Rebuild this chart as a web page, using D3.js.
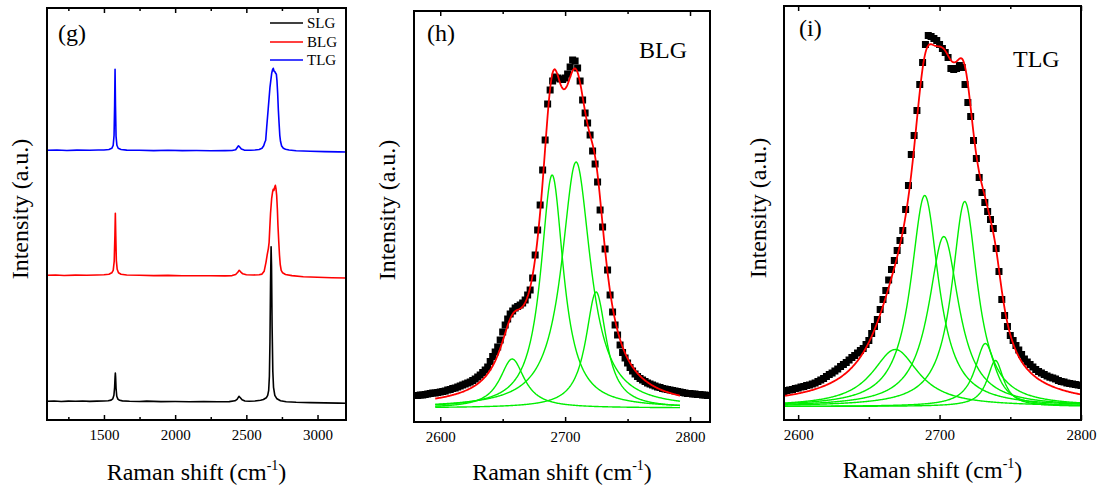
<!DOCTYPE html>
<html>
<head>
<meta charset="utf-8">
<script src="https://cdn.jsdelivr.net/npm/d3@7"></script>
<style>
body { margin: 0; background: #fff; }
svg text { font-family: "Liberation Serif", "Times New Roman", serif; fill: #000; }
</style>
</head>
<body>
<svg id="chart" width="1106" height="490"></svg>
<script>
// ---- data ----
const seriesNames = ["SLG", "BLG", "TLG"];
const stackOffset = [0, 126, 251];

// panel (g): [Raman shift, intensity] pairs
const slgSpectrum = [[1100,0],[1150,0.3],[1200,-0.2],[1250,0.2],[1300,0],[1350,0.3],[1400,-0.1],[1450,0.2],[1500,0.3],
  [1530,0.6],[1550,1.2],[1562,2.5],[1570,6],[1575,14],[1578,24],[1580,28.3],[1582,24],[1585,13],[1590,5],[1598,2.2],
  [1610,1],[1630,0.4],[1680,0],[1750,-0.2],[1800,0.2],[1900,-0.3],[2000,-0.2],[2100,-0.4],[2200,-0.3],[2300,-0.5],
  [2380,-0.3],[2420,0.5],[2435,2],[2448,5],[2458,3.5],[2470,1.5],[2490,0.3],[2520,0],[2560,0.3],[2600,1],[2620,1.8],
  [2640,3.5],[2650,6],[2657,11],[2662,25],[2666,60],[2670,118],[2674,154.6],[2677,135],[2681,75],[2686,30],[2691,14],
  [2700,6],[2715,2.5],[2740,0.5],[2780,-0.5],[2850,-1],[2950,-1.3],[3050,-1.6],[3150,-1.8],[3200,-2]];
const blgSpectrum = [[1100,0],[1160,0.3],[1220,-0.2],[1300,0.2],[1380,0],[1450,0.3],[1500,0.5],[1535,1],[1555,2.5],
  [1565,5],[1572,14],[1577,40],[1580,62],[1583,40],[1587,15],[1593,6],[1602,2.5],[1620,1],[1660,0.3],[1750,0],
  [1850,-0.3],[1950,-0.1],[2050,-0.4],[2150,-0.5],[2250,-0.4],[2350,-0.6],[2400,-0.3],[2425,0.8],[2440,3],[2450,5],
  [2460,3.5],[2475,1.5],[2500,0.5],[2550,0.3],[2590,0.6],[2610,1.2],[2625,4],[2638,13],[2647,21],[2655,27],[2660,33],
  [2665,48],[2670,62],[2678,77],[2684,83],[2689,86],[2694,85],[2699,88],[2704,90],[2708,87],[2713,80],[2718,66],
  [2722,50],[2728,33],[2733,20],[2738,11],[2745,5],[2755,2.5],[2775,0.8],[2820,-0.3],[2900,-1.5],[3000,-2],
  [3100,-2.4],[3200,-2.7]];
const tlgSpectrum = [[1100,0],[1170,0.3],[1240,-0.2],[1310,0.2],[1400,0],[1460,0.3],[1500,0.3],[1535,0.8],[1555,2],
  [1565,5],[1571,15],[1575,45],[1578,81],[1581,45],[1585,14],[1591,5],[1600,2],[1620,0.8],[1660,0.2],[1750,0],
  [1850,-0.3],[1950,0],[2050,-0.3],[2150,-0.2],[2250,-0.4],[2350,-0.3],[2400,-0.2],[2425,0.5],[2435,2.5],[2445,4.5],
  [2455,3],[2465,1.2],[2485,0.2],[2530,0],[2560,0.3],[2590,0.8],[2610,2],[2622,4.5],[2630,8],[2636,10],[2643,23],
  [2654,42],[2666,63],[2678,77],[2685,81],[2689,82],[2695,79],[2701,78.5],[2706,77],[2711,76],[2715,70],[2720,57],
  [2725,40],[2730,27],[2735,15],[2740,9],[2748,4.3],[2760,2],[2775,1],[2800,0.3],[2850,-0.5],[2950,-1],
  [3050,-1.3],[3150,-1.6],[3200,-1.7]];

// panel (h): BLG 2D band, measured points every 2 cm-1 from 2580
const blgShiftStart = 2580, blgShiftStep = 2;
const blgMeasured = [12.5,12.5,13,13,13.5,14,14.5,15,15,15.5,16,16.5,17,18,18.5,19.5,20,21,22,23,
  24,25,26,27.5,29,31,33,35.5,38,41,46.5,51.5,56,61,68,76,83,89,94,97,
  100,101.5,103,105,108,113,118,130,153,178,203,238,268,304,318,327,331,330,329,328.5,
  330,334,341,348,347,340,327,308,295,285,273,257,244,226,198,181,159,138,113,96,
  83,73,63,55.5,50,45,40.5,37,34,31.5,29.5,28,26.5,25,24,23,22,21,20.5,19.5,
  19,18.5,18,17.5,17,16.5,16,15.5,15,14.5,14.5,14,14,13.5,13.5,13,13,12.5,12.5];
const blgFitRange = [2596, 2792];
const blgPeakCenter = [2657.6, 2689.6, 2708.8, 2724.8];
const blgPeakHeight = [49, 233, 246, 116];
const blgPeakHalfWidth = [12, 11, 14, 10];

// panel (i): TLG 2D band, measured points every 2 cm-1 from 2590
const tlgShiftStart = 2590, tlgShiftStep = 2;
const tlgMeasured = [15,16,16.5,17,18,18.5,19.5,20,21,21.5,22.5,23.5,25,26.5,28,30,32,33.5,35.5,37.5,
  40,42,44,46.5,49,51,53.5,56,58,62,66,73,80,87,97,107,116,126.5,137,146,
  156,166,176,197,221,252,271,296,322,344,362,371,370,368,366,362,358,354,349,338,
  337,338,341,339,322,304,290,266,248,229,214,204,195,187,178,158,135,107,91,80,
  71,66,61,56.5,52,47.5,44.5,42,39.5,37,35,33.5,32,30.5,29.3,28.5,27.5,26,25,24.5,
  23.5,23,22.5,22,21.5,21];
const tlgFitRange = [2590, 2800];
const tlgPeakCenter = [2668.7, 2689.5, 2703, 2717.8, 2732.4, 2739.5];
const tlgPeakHeight = [57, 211, 170, 205, 63, 46];
const tlgPeakHalfWidth = [20, 12, 13, 11, 9, 7];

const gTickMajor = [1500, 2000, 2500, 3000];
const gTickMinor = [1250, 1750, 2250, 2750];
const zoomTickMajor = [2600, 2700, 2800];
const zoomTickMinor = [2650, 2750];

// ---- layout ----
const lineColors = ["#000000", "#ff0000", "#0000ff"];
const fitGreen = "#00ee00";
const panels = [
  {name: "g", left: 47, right: 346, top: 8, bottom: 420, xDomain: [1100, 3200], yDomain: [-18.7, 393.3],
   major: gTickMajor, minor: gTickMinor, tag: "(g)", tagX: 58, tagY: 41, ylabX: 28, ylabY: 209, titleY: 480},
  {name: "h", left: 414, right: 710, top: 11, bottom: 422, xDomain: [2579, 2816], yDomain: [-14, 397],
   major: zoomTickMajor, minor: zoomTickMinor, tag: "(h)", tagX: 427, tagY: 41, ylabX: 395, ylabY: 210, titleY: 480,
   label: "BLG", labelX: 639, labelY: 58},
  {name: "i", left: 784, right: 1081, top: 6, bottom: 420, xDomain: [2590, 2800], yDomain: [-13.5, 400.5],
   major: zoomTickMajor, minor: zoomTickMinor, tag: "(i)", tagX: 799, tagY: 36, ylabX: 766, ylabY: 208, titleY: 478,
   label: "TLG", labelX: 1013, labelY: 67}
];

const svg = d3.select("#chart");
const defs = svg.append("defs");

function lorentz(xv, c, h, w) { return h / (1 + ((xv - c) / w) * ((xv - c) / w)); }

function setupPanel(p) {
  const x = d3.scaleLinear().domain(p.xDomain).range([p.left, p.right]);
  const y = d3.scaleLinear().domain(p.yDomain).range([p.bottom, p.top]);
  defs.append("clipPath").attr("id", "clip-" + p.name)
    .append("rect").attr("x", p.left).attr("y", p.top)
    .attr("width", p.right - p.left).attr("height", p.bottom - p.top);
  const g = svg.append("g");
  const plot = g.append("g").attr("clip-path", `url(#clip-${p.name})`);
  return {x, y, g, plot};
}

function drawFrame(p, g, x) {
  const bottomMajor = g.append("g").attr("transform", `translate(0,${p.bottom})`)
    .call(d3.axisBottom(x).tickValues(p.major).tickSize(-5).tickSizeOuter(0).tickPadding(9).tickFormat(d3.format("d")));
  bottomMajor.selectAll("text").style("font-size", "15px");
  g.append("g").attr("transform", `translate(0,${p.bottom})`)
    .call(d3.axisBottom(x).tickValues(p.minor).tickSize(-3).tickSizeOuter(0).tickFormat(""));
  g.append("g").attr("transform", `translate(0,${p.top})`)
    .call(d3.axisTop(x).tickValues(p.major).tickSize(-5).tickSizeOuter(0).tickFormat(""));
  g.append("g").attr("transform", `translate(0,${p.top})`)
    .call(d3.axisTop(x).tickValues(p.minor).tickSize(-3).tickSizeOuter(0).tickFormat(""));
  g.selectAll(".domain").remove();
  g.selectAll(".tick line").attr("stroke-width", 1.5);

  g.append("rect").attr("x", p.left).attr("y", p.top)
    .attr("width", p.right - p.left).attr("height", p.bottom - p.top)
    .attr("fill", "none").attr("stroke", "#000").attr("stroke-width", 2);

  g.append("text").attr("x", p.tagX).attr("y", p.tagY).style("font-size", "24px").text(p.tag);
  if (p.label) g.append("text").attr("x", p.labelX).attr("y", p.labelY).style("font-size", "24px").text(p.label);

  g.append("text").attr("transform", `translate(${p.ylabX},${p.ylabY}) rotate(-90)`)
    .attr("text-anchor", "middle").style("font-size", "24px").text("Intensity (a.u.)");

  const title = g.append("text").attr("x", (p.left + p.right) / 2).attr("y", p.titleY)
    .attr("text-anchor", "middle").style("font-size", "24px");
  title.append("tspan").text("Raman shift (cm");
  title.append("tspan").attr("dy", -10).style("font-size", "14px").text("-1");
  title.append("tspan").attr("dy", 10).text(")");
}

// ---- panel (g) ----
(function () {
  const p = panels[0];
  const {x, y, g, plot} = setupPanel(p);
  const spectra = [slgSpectrum, blgSpectrum, tlgSpectrum];
  spectra.forEach((s, i) => {
    const line = d3.line().x(d => x(d[0])).y(d => y(d[1] + stackOffset[i]));
    plot.append("path").datum(s).attr("d", line)
      .attr("fill", "none").attr("stroke", lineColors[i]).attr("stroke-width", 1.6)
      .attr("stroke-linejoin", "round");
  });
  drawFrame(p, g, x);

  const legend = g.append("g");
  const legendY = [23, 42, 60];
  seriesNames.forEach((n, i) => {
    legend.append("line").attr("x1", 270).attr("x2", 303).attr("y1", legendY[i]).attr("y2", legendY[i])
      .attr("stroke", lineColors[i]).attr("stroke-width", 1.6);
    legend.append("text").attr("x", 307).attr("y", legendY[i] + 5).style("font-size", "15px").text(n);
  });
})();

// ---- panels (h) and (i) ----
function drawFitPanel(p, start, step, measured, fitRange, centers, heights, widths) {
  const {x, y, g, plot} = setupPanel(p);
  const pts = measured.map((v, i) => [start + i * step, v]);

  plot.selectAll("rect.pt").data(pts).enter().append("rect").attr("class", "pt")
    .attr("x", d => x(d[0]) - 3.5).attr("y", d => y(d[1]) - 3.5)
    .attr("width", 7).attr("height", 7).attr("fill", "#000");

  const grid = d3.range(fitRange[0], fitRange[1] + 0.01, 0.5);
  const line = d3.line().x(d => x(d[0])).y(d => y(d[1]));
  centers.forEach((c, k) => {
    const comp = grid.map(v => [v, lorentz(v, c, heights[k], widths[k])]);
    plot.append("path").datum(comp).attr("d", line)
      .attr("fill", "none").attr("stroke", fitGreen).attr("stroke-width", 1.4);
  });
  const sum = grid.map(v => [v, d3.sum(centers, (c, k) => lorentz(v, c, heights[k], widths[k]))]);
  plot.append("path").datum(sum).attr("d", line)
    .attr("fill", "none").attr("stroke", "#ff0000").attr("stroke-width", 1.8);

  drawFrame(p, g, x);
}

drawFitPanel(panels[1], blgShiftStart, blgShiftStep, blgMeasured, blgFitRange, blgPeakCenter, blgPeakHeight, blgPeakHalfWidth);
drawFitPanel(panels[2], tlgShiftStart, tlgShiftStep, tlgMeasured, tlgFitRange, tlgPeakCenter, tlgPeakHeight, tlgPeakHalfWidth);
</script>
</body>
</html>
